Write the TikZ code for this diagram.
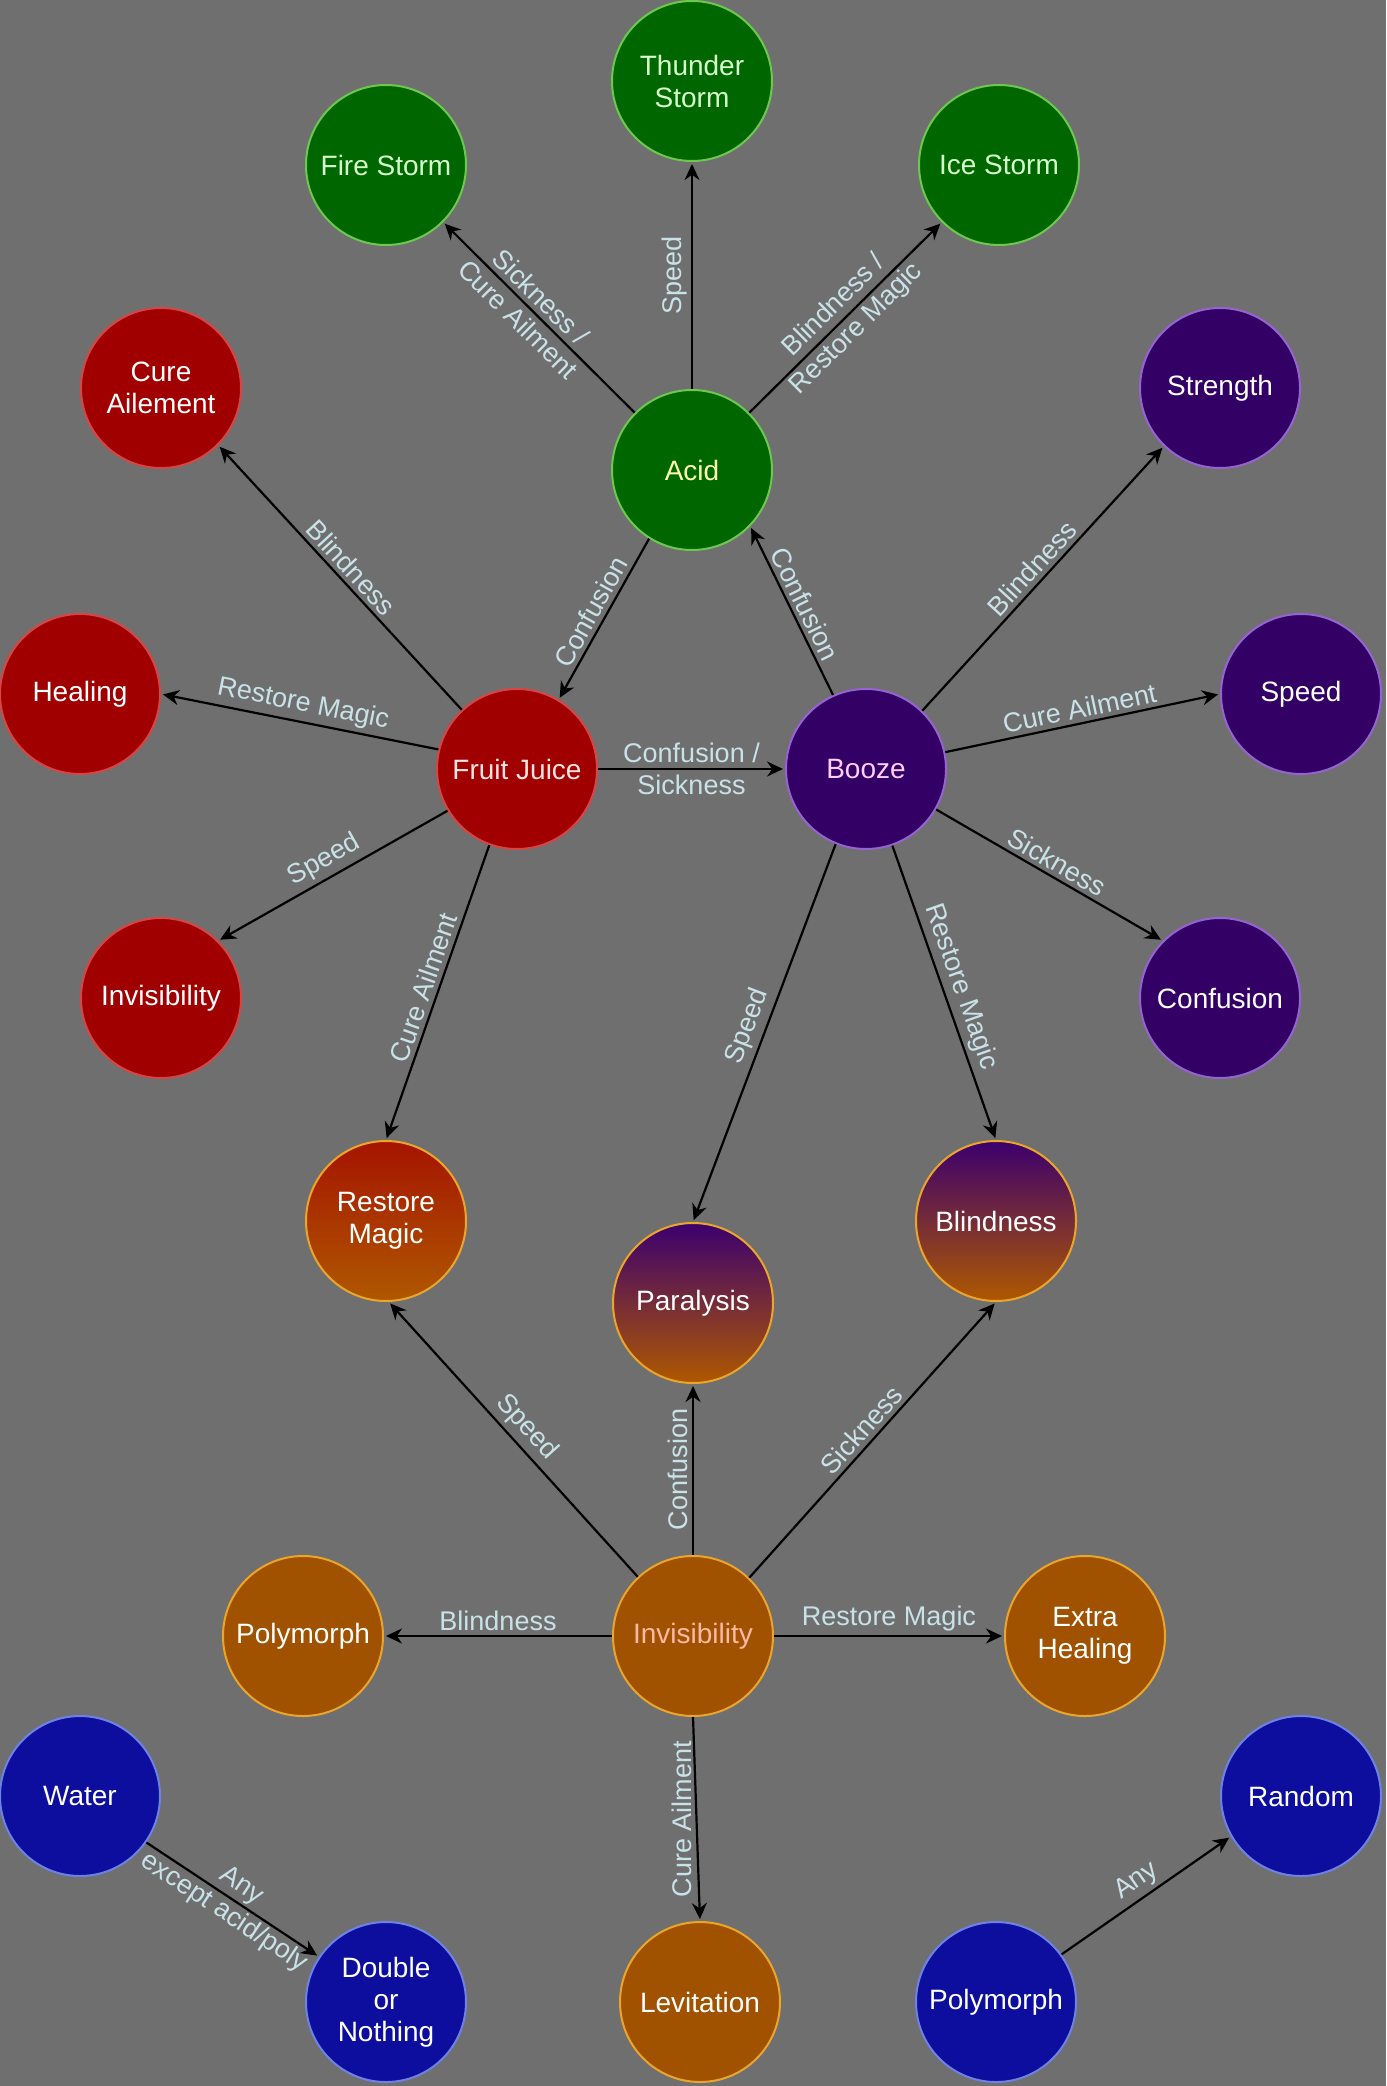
\documentclass[tikz,border=0pt]{standalone}
\usepackage{fontspec}
\setmainfont{Liberation Sans}
\usetikzlibrary{arrows.meta}

\definecolor{bggray}{RGB}{111,111,111}
\definecolor{labtxt}{RGB}{200,226,232}
\definecolor{greenfill}{RGB}{0,102,0}
\definecolor{greenrim}{RGB}{110,200,80}
\definecolor{redfill}{RGB}{160,0,0}
\definecolor{redrim}{RGB}{215,70,70}
\definecolor{purplefill}{RGB}{51,0,102}
\definecolor{purplerim}{RGB}{150,100,210}
\definecolor{orangefill}{RGB}{160,82,0}
\definecolor{orangerim}{RGB}{235,165,40}
\definecolor{bluefill}{RGB}{14,14,158}
\definecolor{bluerim}{RGB}{110,130,230}
\definecolor{mixred}{RGB}{165,20,0}
\definecolor{mixpurple}{RGB}{60,0,110}
\definecolor{mixorange}{RGB}{175,88,0}

\tikzset{
    pot/.style={circle, line width=1pt, minimum size=80pt, inner sep=0pt,
        align=center, text=white, font=\fontsize{14}{16}\selectfont},
    greenpot/.style={pot, fill=greenfill, draw=greenrim, text={rgb,255:red,215;green,255;blue,205}},
    redpot/.style={pot, fill=redfill, draw=redrim},
    purplepot/.style={pot, fill=purplefill, draw=purplerim},
    orangepot/.style={pot, fill=orangefill, draw=orangerim},
    bluepot/.style={pot, fill=bluefill, draw=bluerim},
    mixpot/.style={pot, draw=orangerim, top color=#1, bottom color=mixorange},
    link/.style={draw=black, line width=1.1pt, shorten >=1pt, -{Stealth[length=8pt, width=7.5pt]}},
    lab/.style={font=\fontsize{13.5}{16}\selectfont, text=labtxt, inner sep=2pt, align=center}
}

\begin{document}
\begin{tikzpicture}[x=0.5pt, y=-0.5pt]

    \useasboundingbox (0,0) rectangle (1386,2086);
    \fill[bggray] (0,0) rectangle (1386,2086);

    \node[greenpot] (thunder) at (692,81) {Thunder\\Storm};
    \node[greenpot] (fire) at (386,165) {Fire Storm};
    \node[greenpot] (ice) at (999,165) {Ice Storm};
    \node[greenpot, text={rgb,255:red,255;green,255;blue,170}] (acid) at (692,470) {Acid};

    \node[redpot] (cure) at (161,388) {Cure\\Ailement};
    \node[redpot] (heal) at (80,694) {Healing};
    \node[redpot, text={rgb,255:red,255;green,228;blue,228}] (juice) at (517,769) {Fruit Juice};
    \node[redpot] (invr) at (161,998) {Invisibility};

    \node[purplepot] (strength) at (1220,388) {Strength};
    \node[purplepot, text={rgb,255:red,255;green,205;blue,255}] (booze) at (866,769) {Booze};
    \node[purplepot] (speed) at (1301,694) {Speed};
    \node[purplepot] (conf) at (1220,998) {Confusion};

    \node[mixpot=mixred] (restore) at (386,1221) {Restore\\Magic};
    \node[mixpot=mixpurple] (para) at (693,1303) {Paralysis};
    \node[mixpot=mixpurple] (blind) at (996,1221) {Blindness};

    \node[orangepot] (polyo) at (303,1636) {Polymorph};
    \node[orangepot, text={rgb,255:red,255;green,185;blue,165}] (invo) at (693,1636) {Invisibility};
    \node[orangepot] (extra) at (1085,1636) {Extra\\Healing};
    \node[orangepot] (lev) at (700,2002) {Levitation};

    \node[bluepot] (water) at (80,1796) {Water};
    \node[bluepot] (random) at (1301,1796) {Random};
    \node[bluepot] (double) at (386,2002) {Double\\or\\Nothing};
    \node[bluepot] (polyb) at (996,2002) {Polymorph};

    \draw[link] (acid.135) -- node[lab, pos=0.55, sloped] {Sickness /\\Cure Ailment} (fire.-45);
    \draw[link] (acid.90) -- node[lab, midway, rotate=90, anchor=south] {Speed} (thunder.-90);
    \draw[link] (acid.45) -- node[lab, midway, sloped] {Blindness /\\Restore Magic} (ice.-135);
    \draw[link] (acid.-122) -- node[lab, midway, sloped, above] {Confusion} (juice.59);
    \draw[link] (booze.114) -- node[lab, midway, sloped, above] {Confusion} (acid.-44);

    \draw[link] (juice.133) -- node[lab, midway, sloped, above] {Blindness} (cure.-45);
    \draw[link] (juice.166) -- node[lab, midway, sloped, above] {Restore Magic} (heal.0);
    \draw[link] (juice.-149) -- node[lab, midway, sloped, above] {Speed} (invr.45);
    \draw[link] (juice.-110) -- node[lab, midway, sloped, above] {Cure Ailment} (restore.90);
    \draw[link] (juice.0) -- node[lab, midway] {Confusion /\\Sickness} (booze.180);

    \draw[link] (booze.46) -- node[lab, midway, sloped, above] {Blindness} (strength.-134);
    \draw[link] (booze.12) -- node[lab, midway, sloped, above] {Cure Ailment} (speed.180);
    \draw[link] (booze.-30) -- node[lab, midway, sloped, above] {Sickness} (conf.135);
    \draw[link] (booze.-112) -- node[lab, midway, sloped, above] {Speed} (para.90);
    \draw[link] (booze.-71) -- node[lab, midway, sloped, above] {Restore Magic} (blind.90);

    \draw[link] (invo.133) -- node[lab, midway, sloped, above] {Speed} (restore.-88);
    \draw[link] (invo.90) -- node[lab, midway, rotate=90, anchor=south] {Confusion} (para.-90);
    \draw[link] (invo.46) -- node[lab, midway, sloped, above] {Sickness} (blind.-90);
    \draw[link] (invo.180) -- node[lab, midway, sloped, above] {Blindness} (polyo.0);
    \draw[link] (invo.0) -- node[lab, midway, sloped, above] {Restore Magic} (extra.180);
    \draw[link] (invo.-90) -- node[lab, midway, rotate=90, anchor=south] {Cure Ailment} (lev.90);

    \draw[link] (water.-35) -- node[lab, midway, sloped] {Any\\except acid/poly} (double.146);
    \draw[link] (polyb.36) -- node[lab, midway, sloped, above] {Any} (random.-150);

\end{tikzpicture}
\end{document}
